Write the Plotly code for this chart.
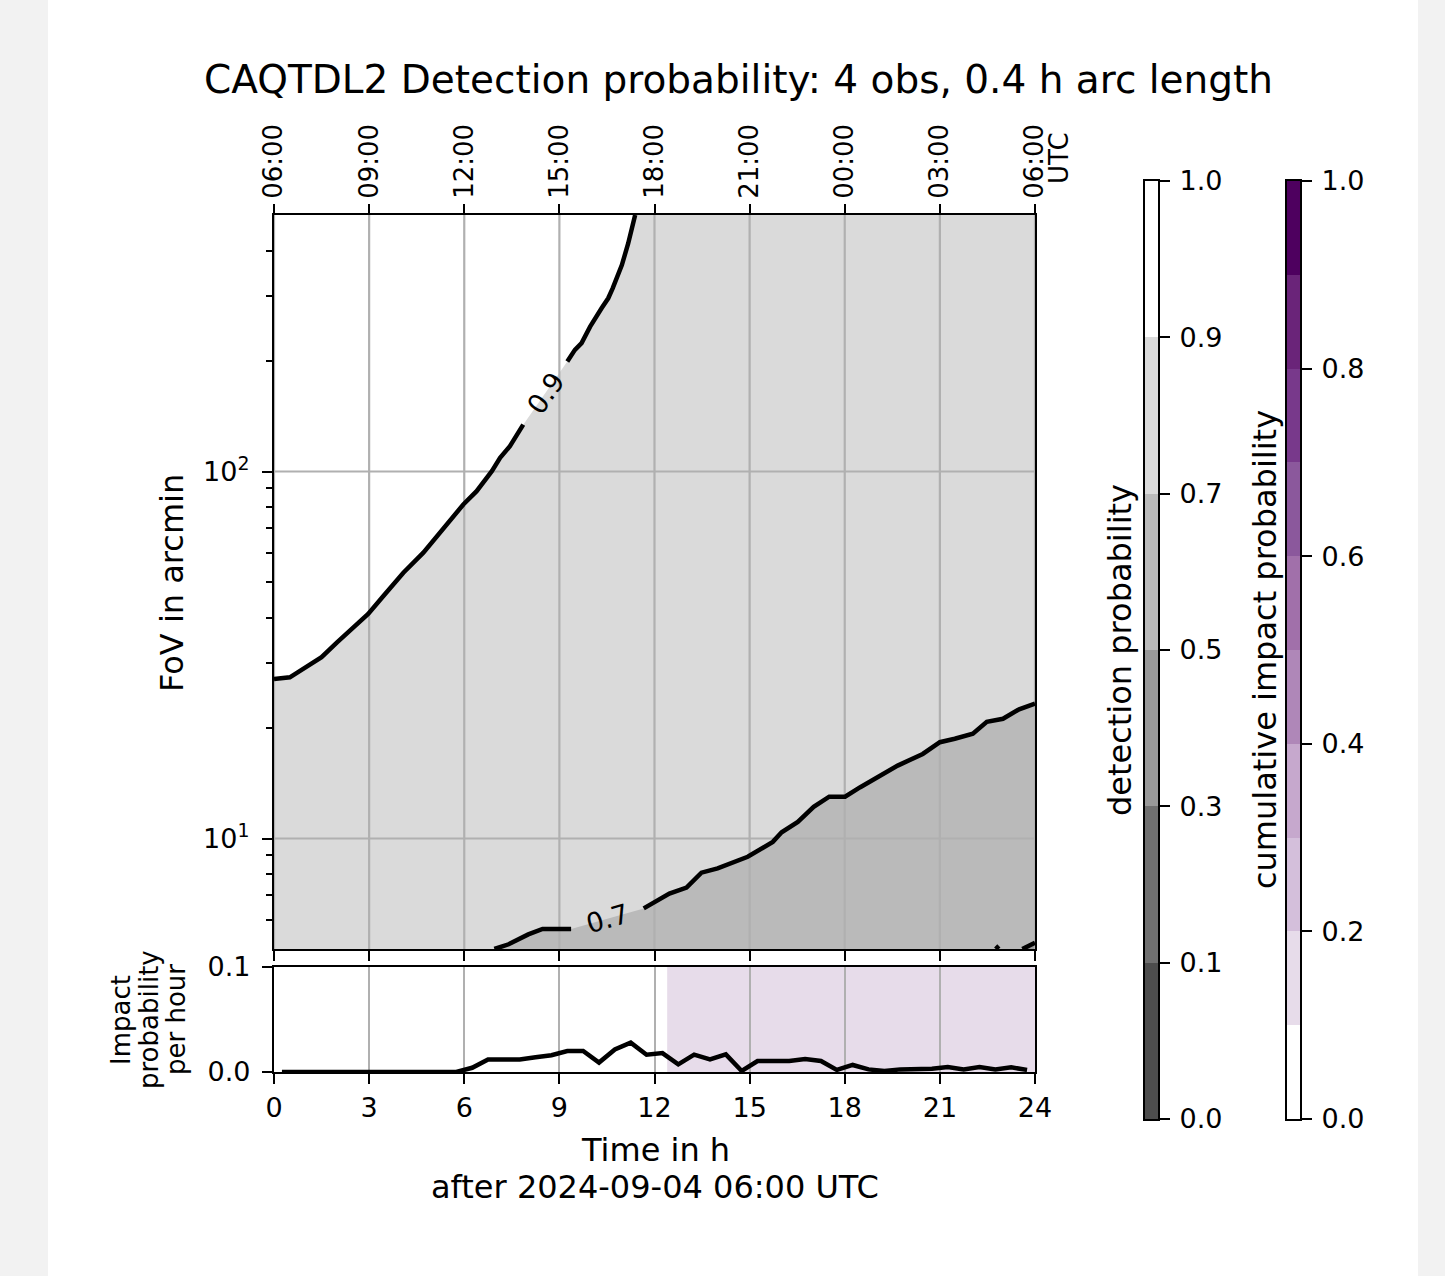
import math
import plotly.graph_objects as go

W, H = 1445, 1276

# ---------------- data ----------------
hour_ticks = [0, 3, 6, 9, 12, 15, 18, 21, 24]
utc_ticks = ["06:00", "09:00", "12:00", "15:00", "18:00", "21:00", "00:00", "03:00", "06:00"]
fov_major = [10, 100]
fov_major_text = ["10<sup>1</sup>", "10<sup>2</sup>"]
fov_minor = [6, 7, 8, 9, 20, 30, 40, 50, 60, 70, 80, 90, 200, 300, 400]
fov_range = [5, 500]
time_range = [0, 24]

# 0.9 detection-probability contour (time in h, FoV in arcmin)
c90_t = [0.00, 0.50, 0.92, 1.50, 1.98, 2.50, 2.97, 3.45, 4.08, 4.71, 5.34, 5.97, 6.39,
         6.87, 7.13, 7.44, 7.86, 9.25, 9.49, 9.70, 9.97, 10.33, 10.54, 10.68, 10.97,
         11.17, 11.39]
c90_fov = [27.2, 27.5, 29.0, 31.2, 34.2, 37.6, 40.9, 45.8, 53.0, 60.1, 69.6, 81.3, 88.4,
           100.2, 109.0, 117.2, 134.2, 199.4, 214.5, 223.8, 248.2, 278.5, 296.5, 315.6,
           365.1, 418.3, 500.0]
c90_gap = 17  # contour label sits between index 16 and 17

# 0.7 detection-probability contour
c70_t = [6.95, 7.40, 8.02, 8.47, 9.37, 11.66, 12.47, 13.01, 13.48, 13.99, 14.94, 15.73,
         16.01, 16.52, 17.02, 17.51, 18.01, 18.49, 19.00, 19.67, 20.46, 21.00, 21.47,
         22.04, 22.48, 22.99, 23.50, 23.95, 24.00]
c70_fov = [5.0, 5.15, 5.48, 5.67, 5.67, 6.45, 7.08, 7.35, 8.07, 8.29, 8.92, 9.79,
           10.4, 11.1, 12.2, 13.0, 13.0, 13.8, 14.6, 15.8, 17.0, 18.3, 18.7,
           19.3, 20.8, 21.2, 22.5, 23.1, 23.3]
c70_gap = 5

# 0.5 contour (barely entering at the bottom right)
c50_t = [22.76, 22.81, 22.86, None, 23.60, 23.85, 24.00]
c50_fov = [5.0, 5.05, 5.0, None, 5.0, 5.1, 5.2]

# impact probability per hour
imp_t = [0.25, 0.75, 1.25, 1.75, 2.25, 2.75, 3.25, 3.75, 4.25, 4.75, 5.25, 5.75,
         6.25, 6.75, 7.25, 7.75, 8.25, 8.75, 9.25, 9.75, 10.25, 10.75, 11.25, 11.75,
         12.25, 12.75, 13.25, 13.75, 14.25, 14.75, 15.25, 15.75, 16.25, 16.75, 17.25,
         17.75, 18.25, 18.75, 19.25, 19.75, 20.25, 20.75, 21.25, 21.75, 22.25, 22.75,
         23.25, 23.75]
imp_v = [0, 0, 0, 0, 0, 0, 0, 0, 0, 0, 0, 0,
         0.004, 0.012, 0.012, 0.012, 0.014, 0.016, 0.020, 0.020, 0.009, 0.0215, 0.028, 0.0165,
         0.018, 0.0073, 0.0165, 0.012, 0.0168, 0.001, 0.0105, 0.0105, 0.0105, 0.0124, 0.0105,
         0.002, 0.0067, 0.0025, 0.001, 0.0025, 0.0028, 0.003, 0.0048, 0.0025, 0.0048, 0.0025,
         0.0044, 0.002]
imp_range = [0.0, 0.1]
imp_ticks = [0.0, 0.1]
cum_shade_start = 12.4  # time when cumulative impact probability enters the 0.1-0.2 band

det_levels = [0.0, 0.1, 0.3, 0.5, 0.7, 0.9, 1.0]
det_colors = ["#4d4d4d", "#707070", "#999999", "#bababa", "#dadada", "#ffffff"]
cum_levels = [0.0, 0.1, 0.2, 0.3, 0.4, 0.5, 0.6, 0.7, 0.8, 0.9, 1.0]
cum_colors = ["#ffffff", "#e7dcea", "#d4bfdb", "#c6a8cd", "#af87b8", "#a170aa",
              "#8b589c", "#78398b", "#6a2479", "#4e005f"]
cum_ticks = [0.0, 0.2, 0.4, 0.6, 0.8, 1.0]

# ---------------- helpers ----------------
def px(p):
    return p / W


def py(p):
    return 1 - p / H


FONT = "DejaVu Sans"
LW = 2.2
GRID = "#b0b0b0"
CLW = 4.5

fig = go.Figure()

# ---- main panel fills ----
lo, hi = fov_range[0] * 0.8, fov_range[1] * 1.2
x_lo, x_hi = time_range[0] - 1, time_range[1] + 1
fig.add_trace(go.Scatter(
    x=[x_lo] + c90_t + [c90_t[-1], x_hi, x_hi, x_lo],
    y=[c90_fov[0]] + c90_fov + [hi, hi, lo, lo],
    fill="toself", fillcolor=det_colors[4], mode="lines", line=dict(width=0),
    xaxis="x", yaxis="y", hoverinfo="skip"))
fig.add_trace(go.Scatter(
    x=c70_t + [x_hi, x_hi, c70_t[0]],
    y=c70_fov + [c70_fov[-1], lo, lo],
    fill="toself", fillcolor=det_colors[3], mode="lines", line=dict(width=0),
    xaxis="x", yaxis="y", hoverinfo="skip"))
seg_t, seg_f = [], []
for t, f in zip(c50_t + [None], c50_fov + [None]):
    if t is None:
        if seg_t:
            fig.add_trace(go.Scatter(
                x=seg_t + [x_hi, x_hi, seg_t[0]], y=seg_f + [seg_f[-1], lo, lo],
                fill="toself", fillcolor=det_colors[2], mode="lines", line=dict(width=0),
                xaxis="x", yaxis="y", hoverinfo="skip"))
        seg_t, seg_f = [], []
    else:
        seg_t.append(t)
        seg_f.append(f)

# ---- grid lines of main panel (drawn above the fills) ----
gx, gy = [], []
for t in hour_ticks:
    gx += [t, t, None]
    gy += [lo, hi, None]
for f in fov_major:
    gx += [x_lo, x_hi, None]
    gy += [f, f, None]
fig.add_trace(go.Scatter(x=gx, y=gy, mode="lines", line=dict(color=GRID, width=2.2),
                         xaxis="x", yaxis="y", hoverinfo="skip"))

# ---- contour lines ----
fig.add_trace(go.Scatter(
    x=c90_t[:c90_gap] + [None] + c90_t[c90_gap:],
    y=c90_fov[:c90_gap] + [None] + c90_fov[c90_gap:],
    mode="lines", line=dict(color="black", width=CLW), xaxis="x", yaxis="y", hoverinfo="skip"))
fig.add_trace(go.Scatter(
    x=c70_t[:c70_gap] + [None] + c70_t[c70_gap:],
    y=c70_fov[:c70_gap] + [None] + c70_fov[c70_gap:],
    mode="lines", line=dict(color="black", width=CLW), xaxis="x", yaxis="y", hoverinfo="skip"))
fig.add_trace(go.Scatter(x=c50_t, y=c50_fov, mode="lines", line=dict(color="black", width=CLW),
                         xaxis="x", yaxis="y", hoverinfo="skip"))

# invisible trace to carry the top (UTC) axis
fig.add_trace(go.Scatter(x=time_range, y=fov_range, mode="none", xaxis="x3", yaxis="y",
                         hoverinfo="skip"))

# ---- lower panel ----
fig.add_trace(go.Scatter(x=imp_t, y=imp_v, mode="lines", line=dict(color="black", width=CLW),
                         xaxis="x2", yaxis="y2", hoverinfo="skip"))

# ---- colour bars ----
fig.add_trace(go.Bar(x=[0] * (len(det_levels) - 1), y=[1] * (len(det_levels) - 1),
                     base=list(range(len(det_levels) - 1)), width=1,
                     marker=dict(color=det_colors, line=dict(width=0)),
                     xaxis="x4", yaxis="y4", hoverinfo="skip"))
fig.add_trace(go.Bar(x=[0] * (len(cum_levels) - 1),
                     y=[b - a for a, b in zip(cum_levels[:-1], cum_levels[1:])],
                     base=cum_levels[:-1], width=1,
                     marker=dict(color=cum_colors, line=dict(width=0)),
                     xaxis="x5", yaxis="y5", hoverinfo="skip"))

# ---------------- axes ----------------
main_x_dom = [px(274), px(1035)]
tickfont = dict(family=FONT, size=27, color="black")
common = dict(showline=True, linecolor="black", linewidth=LW, mirror=True, zeroline=False,
              ticks="outside", ticklen=10, tickwidth=LW, tickcolor="black",
              automargin=False, tickfont=tickfont)

fig.update_layout(
    xaxis=dict(domain=main_x_dom, anchor="y", range=time_range, tickmode="array",
               tickvals=hour_ticks, showticklabels=False, showgrid=False, **common),
    yaxis=dict(domain=[py(949), py(215)], anchor="x", type="log",
               range=[math.log10(fov_range[0]), math.log10(fov_range[1])],
               tickmode="array", tickvals=fov_major, ticktext=fov_major_text, showgrid=False,
               ticklabelstandoff=7,
               minor=dict(tickmode="array", tickvals=fov_minor, ticks="outside", ticklen=6,
                          tickwidth=1.8, tickcolor="black", showgrid=False),
               **common),
    xaxis3=dict(overlaying="x", anchor="y", side="top", range=time_range, tickmode="array",
                tickvals=hour_ticks, ticktext=utc_ticks, tickangle=-90, showgrid=False,
                showline=False, zeroline=False, ticks="outside", ticklen=10, tickwidth=LW,
                tickcolor="black", automargin=False,
                tickfont=dict(family=FONT, size=26, color="black")),
    xaxis2=dict(domain=main_x_dom, anchor="y2", range=time_range, tickmode="array",
                tickvals=hour_ticks, ticktext=[str(t) for t in hour_ticks],
                showgrid=True, gridcolor=GRID, gridwidth=2.2, **common),
    yaxis2=dict(domain=[py(1072), py(967)], anchor="x2", range=imp_range, tickmode="array",
                tickvals=imp_ticks, ticktext=[f"{v:.1f}" for v in imp_ticks], showgrid=False,
                ticklabelstandoff=6, **common),
    xaxis4=dict(domain=[px(1145), px(1158)], anchor="y4", range=[-0.5, 0.5], showticklabels=False,
                showgrid=False, showline=True, linecolor="black", linewidth=LW, mirror=True,
                zeroline=False, ticks="", automargin=False),
    yaxis4=dict(domain=[py(1119), py(181)], anchor="x4", side="right",
                range=[0, len(det_levels) - 1], tickmode="array",
                tickvals=list(range(len(det_levels))),
                ticktext=[f"{v:.1f}" for v in det_levels], showgrid=False,
                ticklabelstandoff=4, **common),
    xaxis5=dict(domain=[px(1287), px(1300)], anchor="y5", range=[-0.5, 0.5], showticklabels=False,
                showgrid=False, showline=True, linecolor="black", linewidth=LW, mirror=True,
                zeroline=False, ticks="", automargin=False),
    yaxis5=dict(domain=[py(1119), py(181)], anchor="x5", side="right",
                range=[cum_levels[0], cum_levels[-1]], tickmode="array", tickvals=cum_ticks,
                ticktext=[f"{v:.1f}" for v in cum_ticks], showgrid=False,
                ticklabelstandoff=4, **common),
)

# ---------------- shapes ----------------
fig.add_shape(type="rect", xref="x2", yref="y2 domain", x0=cum_shade_start, x1=time_range[1],
              y0=0, y1=1, fillcolor=cum_colors[1], line=dict(width=0), layer="below")
fig.add_shape(type="rect", xref="paper", yref="paper", x0=0, x1=px(48), y0=0, y1=1,
              fillcolor="#f2f2f2", line=dict(width=0), layer="below")
fig.add_shape(type="rect", xref="paper", yref="paper", x0=px(1418), x1=1, y0=0, y1=1,
              fillcolor="#f2f2f2", line=dict(width=0), layer="below")

# ---------------- annotations ----------------
def ann(text, x, y, size, angle=0, **kw):
    fig.add_annotation(text=text, x=px(x), y=py(y), xref="paper", yref="paper",
                       showarrow=False, textangle=angle, xanchor="center", yanchor="middle",
                       font=dict(family=FONT, size=size, color="black"), **kw)


ann("CAQTDL2 Detection probability: 4 obs, 0.4 h arc length", 738, 80, 39)
ann("UTC", 1059, 158, 26, angle=-90)
ann("FoV in arcmin", 172, 583, 32, angle=-90)
ann("Impact", 121, 1020, 26, angle=-90)
ann("probability", 149, 1020, 26, angle=-90)
ann("per hour", 176, 1020, 26, angle=-90)
ann("Time in h", 655, 1150, 32)
ann("after 2024-09-04 06:00 UTC", 655, 1187, 32)
ann("detection probability", 1120, 650, 32, angle=-90)
ann("cumulative impact probability", 1265, 650, 32, angle=-90)

# contour labels, placed in the gaps of the contour lines
for ts, fs, gap, txt, ang in [(c90_t, c90_fov, c90_gap, "0.9", -55),
                              (c70_t, c70_fov, c70_gap, "0.7", -16)]:
    lt = (ts[gap - 1] + ts[gap]) / 2
    lf = (math.log10(fs[gap - 1]) + math.log10(fs[gap])) / 2
    fig.add_annotation(text=txt, x=lt, y=lf, xref="x", yref="y", showarrow=False,
                       textangle=ang, xanchor="center", yanchor="middle",
                       font=dict(family=FONT, size=27, color="black"))

fig.update_layout(
    width=W, height=H, margin=dict(l=0, r=0, t=0, b=0, autoexpand=False),
    template="none", paper_bgcolor="white", plot_bgcolor="white",
    showlegend=False, hovermode=False, barmode="overlay", bargap=0,
    font=dict(family=FONT, size=27, color="black"),
)

fig.write_html("out.html", config={"displayModeBar": False},
               post_script="document.body.style.margin='0px';document.body.style.overflow='hidden';")
